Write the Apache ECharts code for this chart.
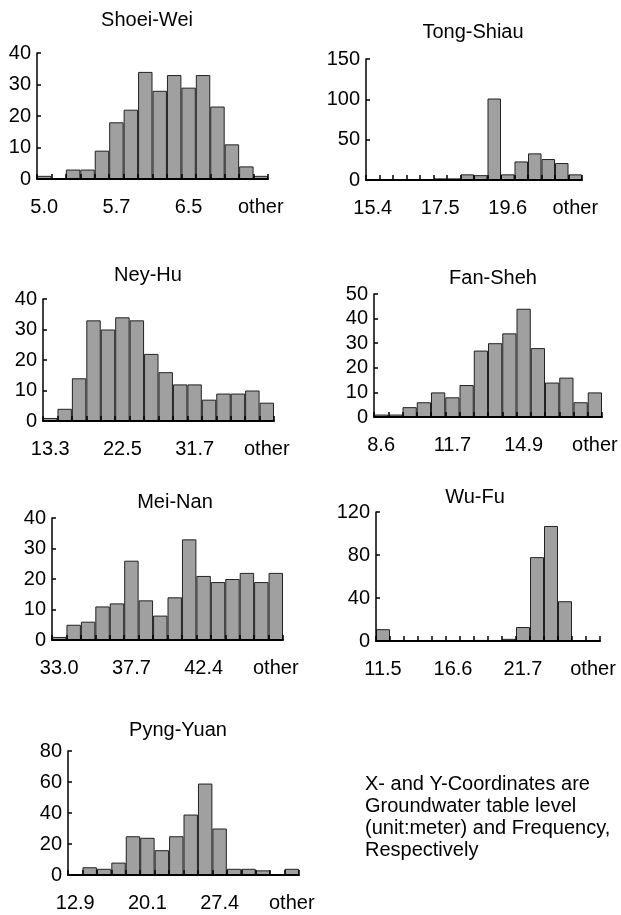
<!DOCTYPE html>
<html>
<head>
<meta charset="utf-8">
<script src="https://cdn.jsdelivr.net/npm/echarts@6/dist/echarts.min.js"></script>
<style>
  html, body { margin: 0; padding: 0; background: #fff; }
  #main { width: 621px; height: 915px; }
</style>
</head>
<body>
<div id="main"></div>
<script>
// frequency of each bin (16 bins, the last one is "other")
var shoeiWei  = [1, 0, 3, 3, 9, 18, 22, 34, 28, 33, 29, 33, 23, 11, 4, 1];
var tongShiau = [1, 1, 0, 1, 1, 2, 2, 7, 6, 101, 7, 23, 33, 26, 21, 7];
var neyHu     = [1, 4, 14, 33, 30, 34, 33, 22, 16, 12, 12, 7, 9, 9, 10, 6];
var fanSheh   = [1, 1, 4, 6, 10, 8, 13, 27, 30, 34, 44, 28, 14, 16, 6, 10];
var meiNan    = [1, 5, 6, 11, 12, 26, 13, 8, 14, 33, 21, 19, 20, 22, 19, 22];
var wuFu      = [11, 0, 0, 0, 0, 0, 0, 1, 0, 2, 13, 78, 107, 37, 0, 0];
var pyngYuan  = [0, 5, 4, 8, 25, 24, 16, 25, 39, 59, 30, 4, 4, 3, 0, 4];

// x tick labels (one every 5 bins)
var shoeiWeiTicks  = ['5.0', '5.7', '6.5', 'other'];
var tongShiauTicks = ['15.4', '17.5', '19.6', 'other'];
var neyHuTicks     = ['13.3', '22.5', '31.7', 'other'];
var fanShehTicks   = ['8.6', '11.7', '14.9', 'other'];
var meiNanTicks    = ['33.0', '37.7', '42.4', 'other'];
var wuFuTicks      = ['11.5', '16.6', '21.7', 'other'];
var pyngYuanTicks  = ['12.9', '20.1', '27.4', 'other'];

var FONT = 'Liberation Sans, Arial, sans-serif';

// layout of each small chart: grid [left, top, width, height], title centre
var panels = [
  { name: 'Shoei-Wei',  data: shoeiWei,  ticks: shoeiWeiTicks,  max: 40,  step: 10, box: [37, 53, 231, 126],  title: [147, 20] },
  { name: 'Tong-Shiau', data: tongShiau, ticks: tongShiauTicks, max: 150, step: 50, box: [366, 59, 216, 121], title: [473, 32] },
  { name: 'Ney-Hu',     data: neyHu,     ticks: neyHuTicks,     max: 40,  step: 10, box: [43, 299, 231, 122], title: [148, 275] },
  { name: 'Fan-Sheh',   data: fanSheh,   ticks: fanShehTicks,   max: 50,  step: 10, box: [374, 294, 228, 123], title: [493, 278] },
  { name: 'Mei-Nan',    data: meiNan,    ticks: meiNanTicks,    max: 40,  step: 10, box: [52, 518, 231, 122], title: [175, 502] },
  { name: 'Wu-Fu',      data: wuFu,      ticks: wuFuTicks,      max: 120, step: 40, box: [376, 512, 224, 129], title: [475, 497] },
  { name: 'Pyng-Yuan',  data: pyngYuan,  ticks: pyngYuanTicks,  max: 80,  step: 20, box: [68, 751, 231, 124], title: [178, 730] }
];

var option = {
  backgroundColor: '#fff',
  animation: false,
  title: [],
  grid: [],
  xAxis: [],
  yAxis: [],
  series: [],
  graphic: [{
    type: 'text',
    left: 365,
    top: 773,
    style: {
      text: 'X- and Y-Coordinates are\nGroundwater table level\n(unit:meter) and Frequency,\nRespectively',
      font: '20px ' + FONT,
      lineHeight: 22,
      fill: '#000'
    }
  }]
};

panels.forEach(function (p, k) {
  var cats = p.data.map(function (d, i) { return String(i); });
  var ticks = p.ticks;
  option.title.push({
    text: p.name,
    left: p.title[0],
    top: p.title[1],
    padding: 0,
    textAlign: 'center',
    textVerticalAlign: 'middle',
    textStyle: { fontFamily: FONT, fontSize: 20, fontWeight: 'normal', color: '#000' }
  });
  option.grid.push({
    left: p.box[0], top: p.box[1], width: p.box[2], height: p.box[3],
    containLabel: false
  });
  option.xAxis.push({
    type: 'category',
    gridIndex: k,
    z: 3,
    data: cats,
    boundaryGap: true,
    axisLine: { show: true, lineStyle: { color: '#000', width: 2 } },
    axisTick: { show: true, inside: true, length: 5, interval: 0, alignWithLabel: false, lineStyle: { color: '#000', width: 1.5 } },
    axisLabel: {
      interval: 4,
      margin: 18,
      fontFamily: FONT,
      fontSize: 20,
      color: '#000',
      formatter: function (v, i) { return ticks[i / 5] || ''; }
    }
  });
  option.yAxis.push({
    type: 'value',
    gridIndex: k,
    z: 3,
    min: 0,
    max: p.max,
    interval: p.step,
    axisLine: { show: true, lineStyle: { color: '#000', width: 1.5 } },
    axisTick: { show: true, inside: true, length: 4, lineStyle: { color: '#000', width: 1.5 } },
    splitLine: { show: false },
    axisLabel: { margin: 6, fontFamily: FONT, fontSize: 20, color: '#000' }
  });
  option.series.push({
    type: 'bar',
    xAxisIndex: k,
    yAxisIndex: k,
    data: p.data,
    barWidth: '100%',
    itemStyle: { color: '#a0a0a0', borderColor: '#222', borderWidth: 1 }
  });
});

var chart = echarts.init(document.getElementById('main'));
chart.setOption(option);
</script>
</body>
</html>
